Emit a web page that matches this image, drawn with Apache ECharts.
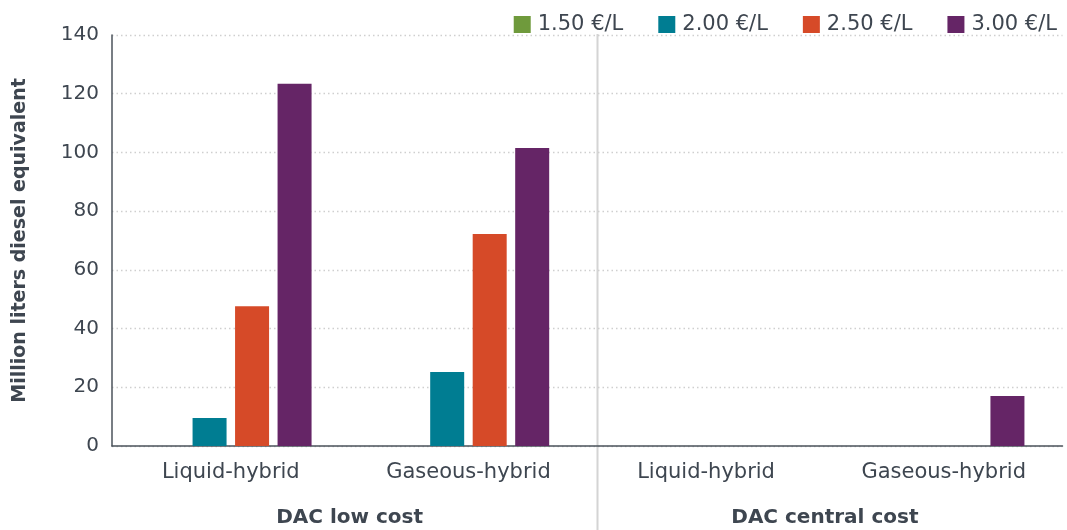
<!DOCTYPE html>
<html>
<head>
<meta charset="utf-8">
<script src="https://cdn.jsdelivr.net/npm/echarts@6/dist/echarts.min.js"></script>
<style>
html,body{margin:0;padding:0;background:#fff;}
#chart{width:1067px;height:530px;}
</style>
</head>
<body>
<div id="chart"></div>
<script>
const categories = ["Liquid-hybrid", "Gaseous-hybrid", "Liquid-hybrid", "Gaseous-hybrid"];
const groups = ["DAC low cost", "DAC central cost"];
const seriesNames = ["1.50 €/L", "2.00 €/L", "2.50 €/L", "3.00 €/L"];
const values150 = [0, 0, 0, 0];
const values200 = [9.5, 25.2, 0, 0];
const values250 = [47.6, 72.2, 0, 0];
const values300 = [123.4, 101.5, 0, 17.0];
const yTicks = [0, 20, 40, 60, 80, 100, 120, 140];

const colors = ["#6f9a3c", "#007d92", "#d64a28", "#652566"];
const textColor = "#3e4650";
const font = "DejaVu Sans";

const chart = echarts.init(document.getElementById('chart'), null, {renderer: 'canvas'});
const allValues = [values150, values200, values250, values300];

const option = {
  animation: false,
  backgroundColor: '#ffffff',
  color: colors,
  textStyle: {fontFamily: font},
  legend: {
    top: 9,
    right: 5,
    itemWidth: 17,
    itemHeight: 17,
    itemGap: 35,
    icon: 'rect',
    data: seriesNames,
    textStyle: {fontFamily: font, fontSize: 21, color: textColor, padding: [0, 0, 0, 2]}
  },
  grid: {left: 112, right: 4.5, top: 35, bottom: 84, containLabel: false},
  xAxis: [
    {
      type: 'category',
      data: categories,
      position: 'bottom',
      axisLine: {show: true, lineStyle: {color: '#4b535b', width: 1.5}},
      axisTick: {show: false},
      axisLabel: {fontFamily: font, fontSize: 21, color: textColor, margin: 16}
    },
    {
      type: 'category',
      data: groups,
      position: 'bottom',
      offset: 46,
      axisLine: {show: false},
      axisTick: {show: false},
      axisLabel: {fontFamily: font, fontSize: 20, fontWeight: 'bold', color: textColor, margin: 16}
    }
  ],
  yAxis: {
    type: 'value',
    min: yTicks[0],
    max: yTicks[yTicks.length - 1],
    interval: yTicks[1] - yTicks[0],
    name: 'Million liters diesel equivalent',
    nameLocation: 'middle',
    nameGap: 82,
    nameTextStyle: {fontFamily: font, fontSize: 19, fontWeight: 'bold', color: textColor},
    axisLine: {show: true, lineStyle: {color: '#4b535b', width: 1.5}},
    axisTick: {show: false},
    axisLabel: {fontFamily: font, fontSize: 20, color: textColor, margin: 13},
    splitLine: {show: true, lineStyle: {color: '#cfcfcf', width: 1.3, type: [1.5, 3]}}
  },
  series: seriesNames.map((n, i) => ({
    name: n,
    type: 'bar',
    xAxisIndex: 0,
    data: allValues[i],
    barWidth: 34,
    barGap: '25%',
    itemStyle: {color: colors[i]}
  })),
  graphic: [
    {
      type: 'line',
      z: 0,
      shape: {x1: 597.5, y1: 34, x2: 597.5, y2: 530},
      style: {stroke: '#d4d4d4', lineWidth: 2}
    }
  ]
};
chart.setOption(option);
</script>
</body>
</html>
